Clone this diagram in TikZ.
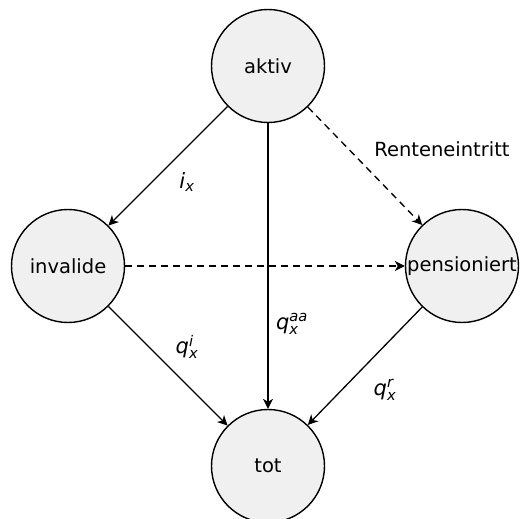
\documentclass[tikz,border=0pt]{standalone}
\usepackage{amsmath}
\usepackage{fontspec}
\setmainfont{DejaVu Sans}
\usetikzlibrary{arrows.meta}
\begin{document}
\begin{tikzpicture}[x=1pt,y=-1pt,
  state/.style={circle, draw=black, line width=1.4pt, fill=black!6,
    minimum size=113pt, inner sep=0pt, font=\fontsize{19.5}{23}\selectfont},
  arr/.style={line width=1.3pt, -{Stealth[length=10pt,width=10pt,inset=3pt]}},
  dasharr/.style={arr, dash pattern=on 7pt off 5pt},
  lbl/.style={font=\fontsize{19.5}{23}\selectfont, inner sep=0pt},
  mlbl/.style={font=\fontsize{21}{25}\selectfont, inner sep=0pt}
]
\useasboundingbox (0,0) rectangle (523,519);
\clip (0,0) rectangle (523,519);
\node[state] (aktiv) at (268,66) {aktiv};
\node[state] (invalide) at (68,266) {invalide};
\node[state] (pens) at (462,266) {pensioniert};
\node[state] (tot) at (268,466) {tot};

\draw[arr] (aktiv) -- (invalide);
\draw[arr] (aktiv) -- (tot);
\draw[dasharr] (aktiv) -- (pens);
\draw[dasharr] (invalide) -- (pens);
\draw[arr] (invalide) -- (tot);
\draw[arr] (pens) -- (tot);

\node[mlbl] (lix) at (187,182) {$\textit{i}_{\textit{x}}$};
\node[mlbl] (lqaa) at (292,324) {$\textit{q}_{\textit{x}}^{\textit{aa}}$};
\node[mlbl] (lqi) at (187,347) {$\textit{q}_{\textit{x}}^{\textit{i}}$};
\node[mlbl] (lqr) at (385,390) {$\textit{q}_{\textit{x}}^{\textit{r}}$};
\node[lbl] (lren) at (442,149) {Renteneintritt};
\end{tikzpicture}
\end{document}
